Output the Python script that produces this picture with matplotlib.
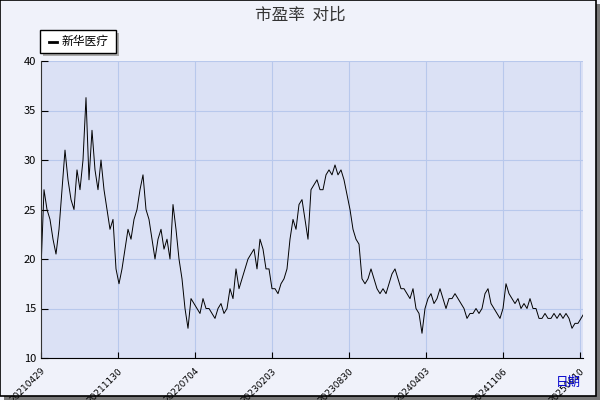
import matplotlib
matplotlib.use("Agg")
import matplotlib.pyplot as plt
from matplotlib.patches import Rectangle

plt.rcParams['font.family'] = ['Noto Sans CJK SC', 'DejaVu Sans']

series_name = "新华医疗"
pe_values = [19, 27, 25, 24, 22, 20.5, 23, 27, 31, 28, 26, 25, 29, 27, 30, 36.3, 28, 33, 29, 27,
    30, 27, 25, 23, 24, 19, 17.5, 19, 21, 23, 22, 24, 25, 27, 28.5, 25, 24, 22, 20, 22,
    23, 21, 22, 20, 25.5, 23, 20, 18, 15, 13, 16, 15.5, 15, 14.5, 16, 15, 15, 14.5, 14, 15,
    15.5, 14.5, 15, 17, 16, 19, 17, 18, 19, 20, 20.5, 21, 19, 22, 21, 19, 19, 17, 17, 16.5,
    17.5, 18, 19, 22, 24, 23, 25.5, 26, 24, 22, 27, 27.5, 28, 27, 27, 28.5, 29, 28.5, 29.5, 28.5,
    29, 28, 26.5, 25, 23, 22, 21.5, 18, 17.5, 18, 19, 18, 17, 16.5, 17, 16.5, 17.5, 18.5, 19, 18,
    17, 17, 16.5, 16, 17, 15, 14.5, 12.5, 15, 16, 16.5, 15.5, 16, 17, 16, 15, 16, 16, 16.5, 16,
    15.5, 15, 14, 14.5, 14.5, 15, 14.5, 15, 16.5, 17, 15.5, 15, 14.5, 14, 15, 17.5, 16.5, 16, 15.5, 16,
    15, 15.5, 15, 16, 15, 15, 14, 14, 14.5, 14, 14, 14.5, 14, 14.5, 14, 14.5, 14, 13, 13.5, 13.5,
    14, 14.5, 14, 14.5, 14.5, 14.5, 14]
tick_labels = ["20210429", "20211130", "20220704", "20230203", "20230830", "20240403", "20241106", "20250610"]
tick_px = [41, 118, 195, 272, 349, 426, 503, 580]
y_ticks = [10, 15, 20, 25, 30, 35, 40]

fig = plt.figure(figsize=(6, 4), dpi=100, facecolor='#f0f2fa')
fig.patches.append(Rectangle((4/600, 0), 596/600, 396/400, transform=fig.transFigure, facecolor='#777777', edgecolor='none', zorder=-3))
fig.patches.append(Rectangle((0, 4/400), 596/600, 396/400 - 0.001, transform=fig.transFigure, facecolor='#f0f2fa', edgecolor='black', lw=1.2, zorder=-2))

ax = fig.add_axes([41/600, 42/400, 542/600, 297/400])
ax.set_facecolor('#dbe1f5')
xs = list(range(len(pe_values)))
ax.plot(xs, pe_values, color='black', lw=0.7)
ax.set_xlim(0, (583-41)/3)
ax.set_ylim(10, 40)
ax.set_yticks(y_ticks)
ax.set_xticks([(p-41)/3 for p in tick_px])
ax.set_xticklabels(tick_labels, rotation=45, ha='right', va='top', rotation_mode='anchor',
                   fontsize=6.5, family='DejaVu Sans')
ax.tick_params(axis='y', labelsize=8, direction='in', length=5)
ax.tick_params(axis='x', direction='in', length=4, pad=6)
ax.grid(True, color='#b8c8ec', lw=0.8)
for s in ['top', 'right']:
    ax.spines[s].set_visible(False)
ax.spines['left'].set_color('#333333')
ax.spines['bottom'].set_color('black')

fig.text(0.5, 0.963, "市盈率  对比", ha='center', va='center', fontsize=12, color='#333333')
fig.text(568/600, 18/400, "日期", ha='center', va='center', fontsize=9, color='#0000cc')

fig.patches.append(Rectangle((43/600, 344/400), 76/600, 23/400, transform=fig.transFigure, facecolor='#aaaaaa', edgecolor='none'))
fig.patches.append(Rectangle((40/600, 347/400), 76/600, 23/400, transform=fig.transFigure, facecolor='white', edgecolor='black', lw=1))
fig.lines.append(plt.Line2D([49/600, 57/600], [358.5/400, 358.5/400], transform=fig.transFigure, color='black', lw=2))
fig.text(62/600, 358.5/400, series_name, ha='left', va='center', fontsize=8.5)

fig.savefig('out.png', dpi=100, facecolor=fig.get_facecolor())
